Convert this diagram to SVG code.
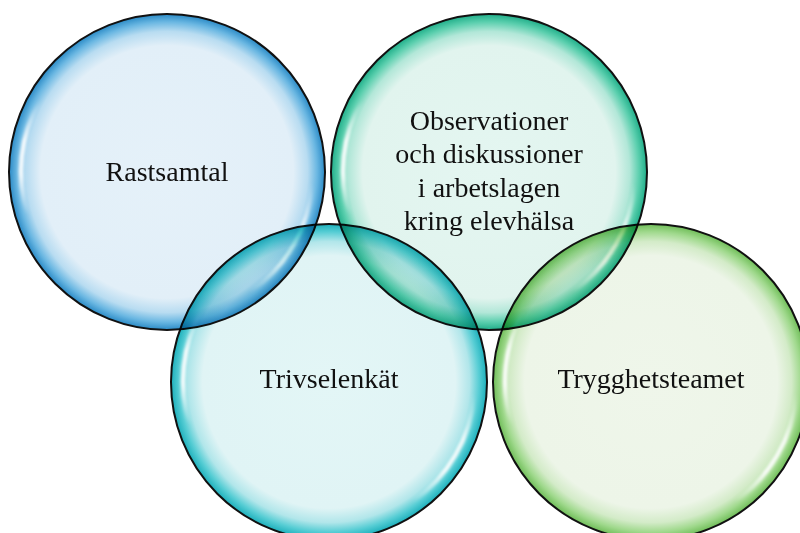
<svg xmlns="http://www.w3.org/2000/svg" width="800" height="533" viewBox="0 0 800 533">
<style>
.node{mix-blend-mode:multiply}
.ring{stroke:#111;stroke-width:2}
.lbl{font-family:"Liberation Serif","Times New Roman",serif;font-size:28px;fill:#111;text-anchor:middle}
.hl{fill:none;stroke-width:4.5;stroke-linecap:round;filter:url(#blur)}
</style>
<defs>
<filter id="blur" x="-50%" y="-20%" width="200%" height="140%"><feGaussianBlur stdDeviation="1.5"/></filter>
<linearGradient id="fadeV" x1="0" y1="0" x2="0" y2="1">
<stop offset="0" stop-color="#fff" stop-opacity="0"/><stop offset="0.35" stop-color="#fff" stop-opacity="0.95"/><stop offset="0.65" stop-color="#fff" stop-opacity="0.95"/><stop offset="1" stop-color="#fff" stop-opacity="0"/>
</linearGradient>
<linearGradient id="fadeD" x1="0" y1="1" x2="1" y2="0">
<stop offset="0" stop-color="#fff" stop-opacity="0"/><stop offset="0.4" stop-color="#fff" stop-opacity="0.95"/><stop offset="0.7" stop-color="#fff" stop-opacity="0.9"/><stop offset="1" stop-color="#fff" stop-opacity="0"/>
</linearGradient>
<radialGradient id="gBlue" cx="0.5" cy="0.5" r="0.5">
<stop offset="0" stop-color="#e5f1f9"/><stop offset="0.8" stop-color="#e2eff8"/><stop offset="0.89" stop-color="#b8dcf1"/><stop offset="0.95" stop-color="#6ab7e2"/><stop offset="1" stop-color="#2a8ac6"/>
</radialGradient>
<radialGradient id="gTeal" cx="0.5" cy="0.5" r="0.5">
<stop offset="0" stop-color="#e4f6f1"/><stop offset="0.8" stop-color="#e1f4ee"/><stop offset="0.89" stop-color="#b2e7d8"/><stop offset="0.95" stop-color="#5bcfae"/><stop offset="1" stop-color="#1fae89"/>
</radialGradient>
<radialGradient id="gCyan" cx="0.5" cy="0.5" r="0.5">
<stop offset="0" stop-color="#e3f6f6"/><stop offset="0.8" stop-color="#e0f4f5"/><stop offset="0.89" stop-color="#b1e6ea"/><stop offset="0.95" stop-color="#56cdd4"/><stop offset="1" stop-color="#1cafbb"/>
</radialGradient>
<radialGradient id="gGreen" cx="0.5" cy="0.5" r="0.5">
<stop offset="0" stop-color="#eff6ea"/><stop offset="0.8" stop-color="#edf5e8"/><stop offset="0.89" stop-color="#d3ebc8"/><stop offset="0.95" stop-color="#a0d98d"/><stop offset="1" stop-color="#6fbd58"/>
</radialGradient>
<g id="hi">
<path class="hl" stroke="url(#fadeV)" d="M -127.7 -70.8 A 146 146 0 0 0 -139.8 42.1"/>
<path class="hl" stroke="url(#fadeD)" d="M 83.7 119.6 A 146 146 0 0 0 145.4 12.7"/>
</g>
</defs>
<g id="n1" class="node">
<circle cx="167" cy="172" r="158" fill="url(#gBlue)"/>
<use href="#hi" transform="translate(167 172)"/>
<circle class="ring" cx="167" cy="172" r="158" fill="none"/>
<text class="lbl" x="167" y="181">Rastsamtal</text>
</g>
<g id="n2" class="node">
<circle cx="489" cy="172" r="158" fill="url(#gTeal)"/>
<use href="#hi" transform="translate(489 172)"/>
<circle class="ring" cx="489" cy="172" r="158" fill="none"/>
<text class="lbl" x="489" y="130">Observationer</text>
<text class="lbl" x="489" y="163">och diskussioner</text>
<text class="lbl" x="489" y="197">i arbetslagen</text>
<text class="lbl" x="489" y="230">kring elevhälsa</text>
</g>
<g id="n3" class="node">
<circle cx="329" cy="382" r="158" fill="url(#gCyan)"/>
<use href="#hi" transform="translate(329 382)"/>
<circle class="ring" cx="329" cy="382" r="158" fill="none"/>
<text class="lbl" x="329" y="388">Trivselenkät</text>
</g>
<g id="n4" class="node">
<circle cx="651" cy="382" r="158" fill="url(#gGreen)"/>
<use href="#hi" transform="translate(651 382)"/>
<circle class="ring" cx="651" cy="382" r="158" fill="none"/>
<text class="lbl" x="651" y="388">Trygghetsteamet</text>
</g>
<g id="connectors"/>
</svg>
